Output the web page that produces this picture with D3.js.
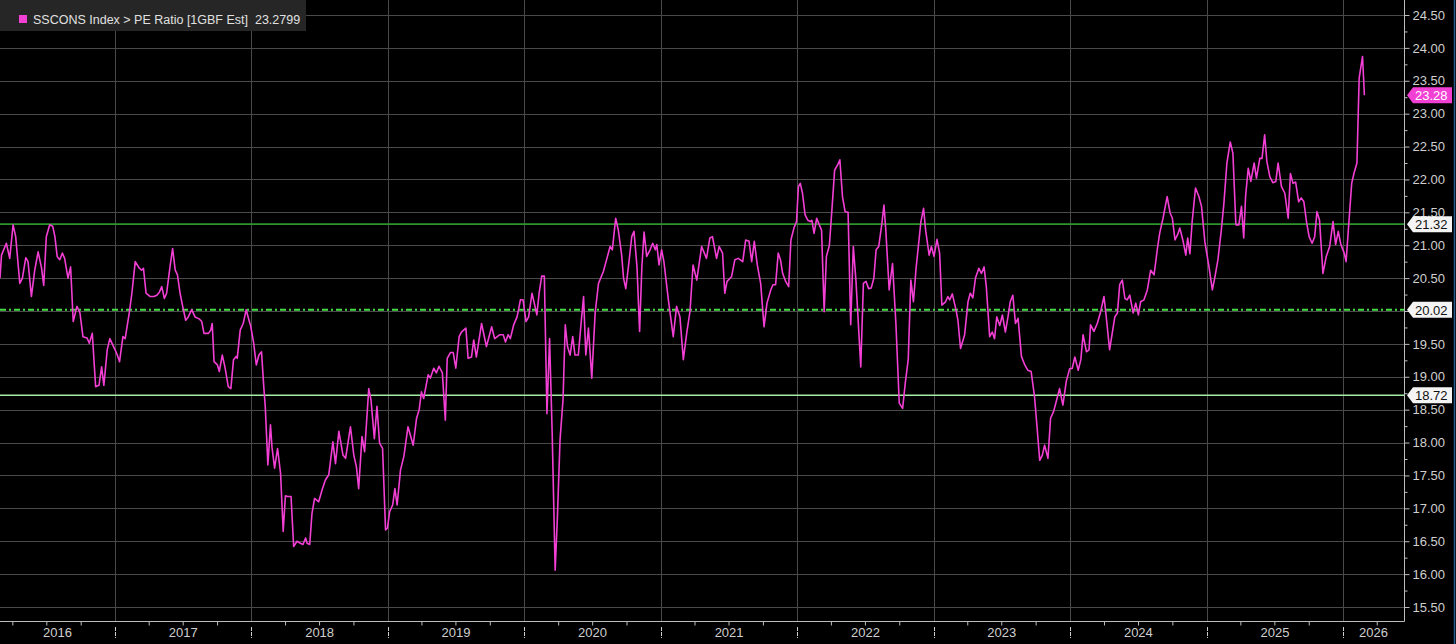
<!DOCTYPE html>
<html><head><meta charset="utf-8">
<script src="https://cdn.jsdelivr.net/npm/d3@7"></script>
<style>html,body{margin:0;padding:0;background:#000;overflow:hidden;} svg{display:block;}</style>
</head><body>
<svg id="chart" width="1456" height="644"></svg>
<script>
// ---------------- DATA ----------------
const dates = [
"2016-02-28","2016-03-03","2016-03-16","2016-03-25","2016-04-03","2016-04-10","2016-04-21","2016-04-28","2016-05-07","2016-05-13",
"2016-05-22","2016-05-31","2016-06-09","2016-06-18","2016-06-24","2016-07-01","2016-07-10","2016-07-18","2016-07-24","2016-07-30",
"2016-08-06","2016-08-13","2016-08-19","2016-08-28","2016-09-04","2016-09-11","2016-09-21","2016-09-29","2016-10-07","2016-10-18",
"2016-10-24","2016-11-01","2016-11-10","2016-11-19","2016-11-26","2016-12-02","2016-12-11","2016-12-18",
"2017-01-01","2017-01-07","2017-01-13","2017-01-22","2017-01-28","2017-02-08","2017-02-15","2017-02-24","2017-03-07","2017-03-13",
"2017-03-18","2017-03-25","2017-04-05","2017-04-15","2017-04-23","2017-04-30","2017-05-06","2017-05-13","2017-05-19","2017-05-28",
"2017-06-04","2017-06-11","2017-06-17","2017-06-24","2017-07-01","2017-07-09","2017-07-16","2017-07-25","2017-08-03","2017-08-14",
"2017-08-21","2017-08-27","2017-09-08","2017-09-14","2017-09-18","2017-09-23","2017-10-02","2017-10-07","2017-10-15","2017-10-22",
"2017-10-31","2017-11-07","2017-11-14","2017-11-21","2017-11-24","2017-12-02","2017-12-10","2017-12-18","2017-12-24","2017-12-30",
"2018-01-07","2018-01-14","2018-01-21","2018-01-28","2018-02-03","2018-02-07","2018-02-14","2018-02-21","2018-02-25","2018-03-04",
"2018-03-12","2018-03-20","2018-03-27","2018-04-02","2018-04-08","2018-04-17","2018-04-24","2018-05-03","2018-05-12","2018-05-19",
"2018-05-26","2018-05-30","2018-06-06","2018-06-12","2018-06-19","2018-06-30","2018-07-09","2018-07-18","2018-07-27","2018-08-07",
"2018-08-14","2018-08-23","2018-09-03","2018-09-10","2018-09-23","2018-10-02","2018-10-09","2018-10-15","2018-10-24","2018-10-31",
"2018-11-11","2018-11-17","2018-11-26","2018-12-03","2018-12-10","2018-12-18","2018-12-26","2018-12-31",
"2019-01-06","2019-01-14","2019-01-20","2019-01-26","2019-02-04","2019-02-13","2019-02-24","2019-03-10","2019-03-19","2019-03-26",
"2019-04-01","2019-04-07","2019-04-19","2019-04-25","2019-05-04","2019-05-11","2019-05-18","2019-05-27","2019-06-04","2019-06-09",
"2019-06-18","2019-06-25","2019-07-02","2019-07-11","2019-07-17","2019-07-29","2019-08-04","2019-08-13","2019-08-19","2019-08-26",
"2019-09-09","2019-09-22","2019-10-06","2019-10-14","2019-10-28","2019-11-06","2019-11-12","2019-11-19","2019-11-25","2019-12-04",
"2019-12-13","2019-12-22","2019-12-29",
"2020-01-06","2020-01-13","2020-01-22","2020-01-28","2020-02-04","2020-02-10","2020-02-17","2020-02-24","2020-03-02","2020-03-09",
"2020-03-16","2020-03-24","2020-03-30","2020-04-06","2020-04-14","2020-04-20","2020-04-26","2020-05-03","2020-05-10","2020-05-16",
"2020-05-25","2020-06-01","2020-06-08","2020-06-14","2020-06-21","2020-06-30","2020-07-09","2020-07-18","2020-07-31","2020-08-11",
"2020-08-18","2020-08-24","2020-09-02","2020-09-09","2020-09-18","2020-09-23","2020-09-29","2020-10-06","2020-10-15","2020-10-21",
"2020-10-29","2020-11-05","2020-11-11","2020-11-17","2020-11-24","2020-12-03","2020-12-10","2020-12-17","2020-12-21","2020-12-27",
"2021-01-03","2021-01-09","2021-01-21","2021-02-03","2021-02-12","2021-02-21","2021-03-02","2021-03-11","2021-03-20","2021-03-28",
"2021-04-07","2021-04-20","2021-05-03","2021-05-12","2021-05-19","2021-05-30","2021-06-06","2021-06-15","2021-06-21","2021-06-27",
"2021-07-09","2021-07-18","2021-07-27","2021-08-08","2021-08-16","2021-08-25","2021-09-01","2021-09-08","2021-09-16","2021-09-25",
"2021-10-04","2021-10-12","2021-10-22","2021-10-28","2021-11-04","2021-11-11","2021-11-17","2021-11-23","2021-12-01","2021-12-09",
"2021-12-15","2021-12-23","2021-12-30",
"2022-01-04","2022-01-09","2022-01-15","2022-01-22","2022-01-29","2022-02-05","2022-02-09","2022-02-15","2022-02-22","2022-03-01",
"2022-03-07","2022-03-14","2022-03-20","2022-03-28","2022-04-04","2022-04-11","2022-04-19","2022-04-25","2022-05-02","2022-05-09",
"2022-05-17","2022-05-24","2022-05-31","2022-06-07","2022-06-20","2022-06-27","2022-07-04","2022-07-11","2022-07-18","2022-07-25",
"2022-07-31","2022-08-07","2022-08-15","2022-08-21","2022-08-26","2022-09-04","2022-09-13","2022-09-22","2022-10-01","2022-10-10",
"2022-10-17","2022-10-25","2022-11-01","2022-11-08","2022-11-15","2022-11-28","2022-12-05","2022-12-11","2022-12-20","2022-12-26",
"2023-01-02","2023-01-10","2023-01-17","2023-01-23","2023-02-02","2023-02-08","2023-02-13","2023-02-20","2023-03-01","2023-03-07",
"2023-03-14","2023-03-25","2023-04-03","2023-04-09","2023-04-16","2023-04-23","2023-05-02","2023-05-09","2023-05-16","2023-05-22",
"2023-05-31","2023-06-07","2023-06-13","2023-06-19","2023-06-27","2023-07-04","2023-07-12","2023-07-19","2023-07-25","2023-08-01",
"2023-08-08","2023-08-15","2023-08-24","2023-09-02","2023-09-10","2023-09-19","2023-09-28","2023-10-04","2023-10-12","2023-10-19",
"2023-10-25","2023-11-03","2023-11-10","2023-11-18","2023-11-25","2023-12-04","2023-12-13","2023-12-22","2023-12-31",
"2024-01-07","2024-01-14","2024-01-23","2024-01-30","2024-02-05","2024-02-14","2024-02-21","2024-02-25","2024-03-05","2024-03-14",
"2024-03-23","2024-04-01","2024-04-07","2024-04-16","2024-04-23","2024-04-30","2024-05-07","2024-05-13","2024-05-20","2024-05-27",
"2024-06-02","2024-06-09","2024-06-18","2024-06-25","2024-07-02","2024-07-08","2024-07-17","2024-07-26","2024-08-04","2024-08-13",
"2024-08-22","2024-08-28","2024-09-06","2024-09-17","2024-09-25","2024-10-01","2024-10-08","2024-10-15","2024-10-21","2024-10-29",
"2024-11-06","2024-11-11","2024-11-17","2024-11-23","2024-12-02","2024-12-11","2024-12-18","2024-12-27",
"2025-01-07","2025-01-16","2025-01-23","2025-01-31","2025-02-09","2025-02-16","2025-02-24","2025-03-05","2025-03-12","2025-03-20",
"2025-03-28","2025-04-04","2025-04-10","2025-04-15","2025-04-22","2025-04-29","2025-05-08","2025-05-14","2025-05-23","2025-05-29",
"2025-06-05","2025-06-11","2025-06-19","2025-06-27","2025-07-05","2025-07-11","2025-07-20","2025-07-29","2025-08-07","2025-08-13",
"2025-08-20","2025-08-27","2025-09-04","2025-09-11","2025-09-18","2025-09-25","2025-10-02","2025-10-10","2025-10-17","2025-10-23",
"2025-10-30","2025-11-08","2025-11-17","2025-11-26","2025-12-05","2025-12-12","2025-12-19","2025-12-26",
"2026-01-04","2026-01-09","2026-01-15","2026-01-24","2026-01-30","2026-02-07","2026-02-13","2026-02-22","2026-02-27"
];
const peRatio = [
20.50,20.85,21.03,20.80,21.31,21.13,20.42,20.50,20.81,20.75,
20.22,20.62,20.90,20.66,20.39,21.13,21.31,21.29,21.13,20.83,
20.78,20.88,20.80,20.50,20.67,19.84,20.07,19.97,19.61,19.59,
19.51,19.66,18.85,18.87,19.15,18.87,19.41,19.58,
19.41,19.33,19.23,19.61,19.58,19.97,20.27,20.75,20.65,20.62,
20.65,20.27,20.22,20.22,20.24,20.29,20.37,20.19,20.27,20.67,
20.95,20.62,20.55,20.27,20.07,19.86,19.91,20.02,19.91,19.88,
19.84,19.66,19.66,19.71,19.81,19.23,19.18,19.08,19.33,19.15,
18.85,18.82,19.26,19.31,19.28,19.71,19.81,20.02,19.89,19.77,
19.51,19.18,19.33,19.38,18.85,18.55,17.66,18.27,17.93,17.61,
17.91,17.53,16.65,17.19,17.18,17.18,16.42,16.50,16.47,16.45,
16.55,16.47,16.45,16.92,17.15,17.10,17.28,17.43,17.51,18.01,
17.68,18.17,17.81,17.76,18.24,17.81,17.63,17.30,18.09,17.86,
18.82,18.65,18.06,18.55,17.99,17.91,16.67,16.70,
16.95,17.05,17.30,17.05,17.58,17.79,18.24,17.96,18.37,18.50,
18.77,18.67,19.03,18.98,19.13,19.06,19.16,19.06,18.34,19.28,
19.37,19.37,19.13,19.61,19.68,19.74,19.28,19.30,19.56,19.30,
19.81,19.46,19.76,19.58,19.64,19.64,19.53,19.64,19.58,19.79,
19.91,20.17,20.17,
19.84,19.91,20.27,20.12,19.94,20.27,20.53,20.53,18.44,19.58,
18.14,16.06,16.87,18.04,18.65,19.79,19.46,19.33,19.61,19.33,
19.33,19.79,20.22,19.33,19.74,18.98,19.97,20.42,20.60,20.83,
20.98,20.93,21.41,21.23,20.85,20.50,20.34,20.67,21.13,21.21,
20.67,19.69,20.67,21.20,20.83,20.93,21.03,20.93,21.01,20.70,
20.93,20.75,20.17,19.61,20.07,19.91,19.26,19.66,20.00,20.70,
20.47,20.98,20.80,21.11,21.13,20.80,20.98,20.88,20.27,20.45,
20.52,20.78,20.80,20.75,21.08,21.06,20.75,21.06,20.70,20.42,
19.76,20.12,20.32,20.40,20.40,20.88,20.78,20.57,20.45,20.37,
21.08,21.26,21.36,
21.89,21.94,21.79,21.46,21.38,21.36,21.38,21.18,21.41,21.31,
21.23,19.99,20.83,21.00,21.56,22.14,22.22,22.30,21.74,21.51,
21.50,19.79,20.98,20.47,19.15,20.42,20.45,20.34,20.35,20.50,
20.93,20.98,21.31,21.61,21.23,20.32,20.72,19.81,18.60,18.52,
18.90,19.26,20.47,20.14,20.65,21.36,21.56,21.21,20.85,20.98,
20.83,21.09,20.88,20.09,20.14,20.22,20.17,20.26,20.04,19.86,
19.43,19.64,20.14,20.27,20.20,20.50,20.65,20.57,20.67,20.37,
19.61,19.68,19.58,19.91,19.78,19.94,19.68,19.91,20.14,20.24,
19.81,19.89,19.31,19.18,19.10,19.08,18.70,18.29,17.73,17.81,
17.96,17.76,18.37,18.47,18.62,18.82,18.57,18.93,19.12,
19.13,19.30,19.10,19.26,19.64,19.38,19.41,19.79,19.69,19.81,
19.99,20.22,19.91,19.41,19.66,19.91,19.97,20.40,20.47,20.19,
20.17,20.24,19.97,20.12,19.94,20.14,20.17,20.32,20.62,20.55,
20.95,21.18,21.41,21.74,21.49,21.41,21.08,21.16,21.26,21.08,
20.85,21.11,20.87,21.36,21.87,21.74,21.59,21.05,
20.67,20.32,20.52,20.78,21.23,21.64,22.25,22.57,22.40,21.31,
21.31,21.59,21.11,21.74,22.17,21.97,22.25,22.02,22.32,22.32,
22.68,22.27,22.04,21.95,21.97,22.25,21.89,21.79,21.41,22.09,
21.94,21.96,21.66,21.72,21.66,21.36,21.13,21.03,21.13,21.51,
21.38,20.57,20.83,20.98,21.36,21.01,21.21,21.01,
20.88,20.75,21.23,21.94,22.09,22.25,23.54,23.87,23.2799
];
const yMajorTicks = [15.5,16,16.5,17,17.5,18,18.5,19,19.5,20,20.5,21,21.5,22,22.5,23,23.5,24,24.5];
const yMinorTicks = [15.75,16.25,16.75,17.25,17.75,18.25,18.75,19.25,19.75,20.25,20.75,21.25,21.75,22.25,22.75,23.25,23.75,24.25];
const yearLabels = ["2016","2017","2018","2019","2020","2021","2022","2023","2024","2025","2026"];
const refLevels = [21.32, 20.02, 18.72];
const seriesName = "SSCONS Index > PE Ratio [1GBF Est]";
const lastValue = 23.2799;

// ---------------- LAYOUT ----------------
const W = 1456, H = 644;
const plotRight = 1404, plotBottom = 621;
const parse = d3.utcParse("%Y-%m-%d");
const data = dates.map((d, i) => ({date: parse(d), value: peRatio[i]}));

const x = d3.scaleUtc()
  .domain([parse("2016-02-28"), parse("2026-06-13")])
  .range([0, plotRight]);
const y = d3.scaleLinear().domain([15.5, 24.5]).range([607, 15]);

const svg = d3.select("#chart");
svg.append("rect").attr("width", W).attr("height", H).attr("fill", "#000");

const gridColor = "#4a4a4a";
// horizontal gridlines
svg.append("g").selectAll("line").data(yMajorTicks).join("line")
  .attr("x1", 0).attr("x2", plotRight)
  .attr("y1", d => Math.round(y(d)) + 0.5).attr("y2", d => Math.round(y(d)) + 0.5)
  .attr("stroke", gridColor).attr("stroke-width", 1);

// vertical gridlines at year starts
const yearStarts = yearLabels.map(s => parse(s + "-01-01"));
svg.append("g").selectAll("line").data(yearStarts.filter(d => x(d) > 0)).join("line")
  .attr("x1", d => Math.round(x(d)) + 0.5).attr("x2", d => Math.round(x(d)) + 0.5)
  .attr("y1", 0).attr("y2", plotBottom)
  .attr("stroke", gridColor).attr("stroke-width", 1);

// reference lines
const refStyle = [
  {stroke: "#2c962c", dash: null, width: 1.6},
  {stroke: "#46e046", dash: "6,3,2,3", width: 2},
  {stroke: "#a3eea3", dash: null, width: 1.4}
];
svg.append("g").selectAll("line").data(refLevels).join("line")
  .attr("x1", 0).attr("x2", plotRight)
  .attr("y1", d => y(d)).attr("y2", d => y(d))
  .attr("stroke", (d, i) => refStyle[i].stroke)
  .attr("stroke-width", (d, i) => refStyle[i].width)
  .attr("stroke-dasharray", (d, i) => refStyle[i].dash);

// series line
const line = d3.line().x(d => x(d.date)).y(d => y(d.value));
svg.append("path").datum(data)
  .attr("d", line)
  .attr("fill", "none")
  .attr("stroke", "#f23fd4")
  .attr("stroke-width", 1.6)
  .attr("stroke-linejoin", "round");

// ---------------- AXES ----------------
const axisColor = "#bdbdbd";
const fontFam = "'Liberation Sans', Arial, sans-serif";

svg.append("line").attr("x1", plotRight + 0.5).attr("x2", plotRight + 0.5)
  .attr("y1", 0).attr("y2", plotBottom + 0.5).attr("stroke", axisColor);
svg.append("line").attr("x1", 0).attr("x2", plotRight + 0.5)
  .attr("y1", plotBottom + 0.5).attr("y2", plotBottom + 0.5).attr("stroke", axisColor);

const yAxis = d3.axisRight(y).tickValues(yMajorTicks).tickSize(5).tickPadding(3)
  .tickFormat(d3.format(".2f"));
const gy = svg.append("g").attr("transform", `translate(${plotRight + 0.5},0)`).call(yAxis);
gy.select(".domain").remove();
gy.selectAll(".tick line").attr("stroke", axisColor);
gy.selectAll(".tick text").attr("fill", "#cfcfcf").attr("font-size", 13).attr("font-family", fontFam);

const yAxisMinor = d3.axisRight(y).tickValues(yMinorTicks).tickSize(3).tickFormat("");
const gym = svg.append("g").attr("transform", `translate(${plotRight + 0.5},0)`).call(yAxisMinor);
gym.select(".domain").remove();
gym.selectAll(".tick line").attr("stroke", axisColor);

// bottom quarter ticks
const quarterTicks = d3.utcMonth.every(3).range(x.domain()[0], x.domain()[1])
  .filter(d => d.getUTCMonth() !== 0);
const xAxis = d3.axisBottom(x).tickValues(quarterTicks).tickSize(4).tickFormat("");
const gx = svg.append("g").attr("transform", `translate(0,${plotBottom + 0.5})`).call(xAxis);
gx.select(".domain").remove();
gx.selectAll(".tick line").attr("stroke", axisColor);

// year separators
svg.append("g").selectAll("line").data(yearStarts.filter(d => x(d) > 0)).join("line")
  .attr("x1", d => Math.round(x(d)) + 0.5).attr("x2", d => Math.round(x(d)) + 0.5)
  .attr("y1", 627).attr("y2", 638)
  .attr("stroke", "#cfcfcf").attr("stroke-width", 1).attr("stroke-dasharray", "4,1");

// year labels centred within visible part of each year
svg.append("g").selectAll("text").data(yearLabels).join("text")
  .attr("x", d => {
    const a = Math.max(0, x(parse(d + "-01-01")));
    const b = Math.min(plotRight, x(parse((+d + 1) + "-01-01")));
    return (a + b) / 2;
  })
  .attr("y", 637)
  .attr("text-anchor", "middle")
  .attr("fill", "#cfcfcf").attr("font-size", 13).attr("font-family", fontFam)
  .text(d => d);

// ---------------- VALUE TAGS ON AXIS ----------------
function tag(value, label, fill, textFill) {
  const cy = y(value);
  const g = svg.append("g");
  const x0 = plotRight + 3, xb = plotRight + 9, x1 = 1452, h = 16;
  g.append("path")
    .attr("d", `M${x0},${cy} L${xb},${cy - h/2} L${x1},${cy - h/2} L${x1},${cy + h/2} L${xb},${cy + h/2} Z`)
    .attr("fill", fill);
  g.append("text").attr("x", xb + 2).attr("y", cy + 5)
    .attr("fill", textFill).attr("font-size", 13).attr("font-family", fontFam)
    .text(label);
}
refLevels.forEach(v => tag(v, d3.format(".2f")(v), "#f4f4f4", "#111"));
tag(lastValue, d3.format(".2f")(lastValue), "#f23fd4", "#ffffff");

// ---------------- LEGEND ----------------
const lg = svg.append("g");
lg.append("rect").attr("x", 0).attr("y", 0).attr("width", 306).attr("height", 31).attr("fill", "#262626");
lg.append("rect").attr("x", 19).attr("y", 15).attr("width", 8).attr("height", 8).attr("fill", "#f23fd4");
lg.append("text").attr("x", 33).attr("y", 23.5)
  .attr("fill", "#e0e0e0").attr("font-size", 12.5).attr("font-family", fontFam)
  .style("white-space", "pre")
  .text(seriesName + "  " + lastValue);

// right frame border
svg.append("line").attr("x1", 1454.5).attr("x2", 1454.5).attr("y1", 0).attr("y2", H)
  .attr("stroke", "#2b5c8f").attr("stroke-width", 1.5);
</script>
</body></html>
